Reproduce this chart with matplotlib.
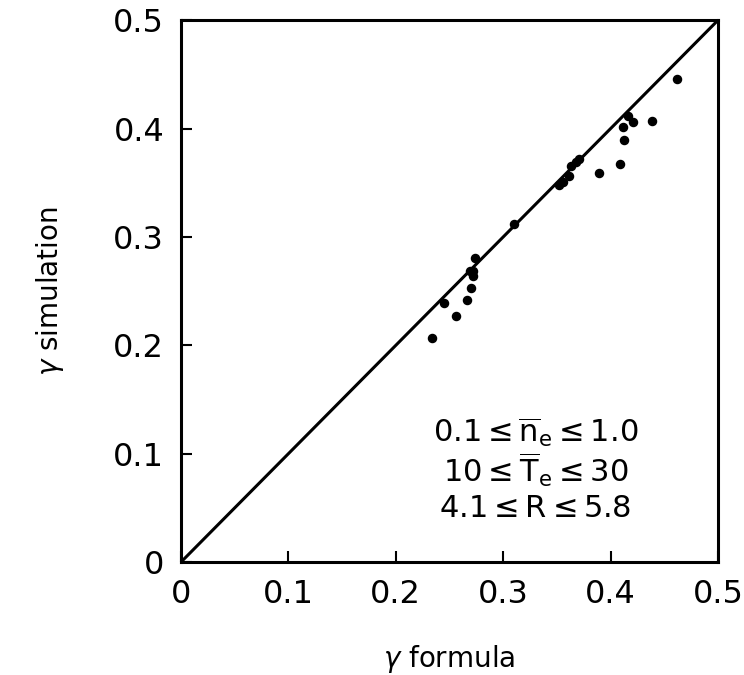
import matplotlib
matplotlib.use("Agg")
import matplotlib.pyplot as plt

# gamma formula vs gamma simulation
gamma_formula = [0.4615, 0.4159, 0.4211, 0.4388, 0.4115, 0.4128, 0.4088, 0.3892,
                 0.3709, 0.3675, 0.3631, 0.3610, 0.3560, 0.3520, 0.3103, 0.2735,
                 0.2688, 0.2722, 0.2716, 0.2700, 0.2660, 0.2449, 0.2561, 0.2337]
gamma_sim = [0.4462, 0.4114, 0.4059, 0.4075, 0.4019, 0.3899, 0.3674, 0.3595,
             0.3724, 0.3693, 0.3653, 0.3567, 0.3506, 0.3478, 0.3125, 0.2807,
             0.2687, 0.2687, 0.2641, 0.2534, 0.2417, 0.2392, 0.2272, 0.2073]

ticks = [0, 0.1, 0.2, 0.3, 0.4, 0.5]
tick_labels = ["0", "0.1", "0.2", "0.3", "0.4", "0.5"]
ranges = [r"$\mathrm{0.1 \leq \overline{n}_e \leq 1.0}$",
          r"$\mathrm{10 \leq \overline{T}_e \leq 30}$",
          r"$\mathrm{4.1 \leq R \leq 5.8}$"]

plt.rcParams["font.family"] = "DejaVu Sans"
plt.rcParams["mathtext.fontset"] = "dejavusans"

fig = plt.figure(figsize=(7.44, 6.75), dpi=100)
ax = fig.add_axes([0.243, 0.167, 0.722, 0.803])

# y = x reference line
ax.plot([0, 0.5], [0, 0.5], color="black", lw=2.2, solid_capstyle="butt")
ax.scatter(gamma_formula, gamma_sim, s=34, color="black", zorder=3)

ax.set_xlim(0, 0.5)
ax.set_ylim(0, 0.5)
ax.set_xticks(ticks)
ax.set_xticklabels(tick_labels)
ax.set_yticks(ticks)
ax.set_yticklabels(tick_labels)
ax.tick_params(direction="in", length=8, width=1.5, labelsize=23, pad=12)
for s in ax.spines.values():
    s.set_linewidth(2.2)

ax.set_xlabel(r"$\gamma$ formula", fontsize=20, labelpad=24)
ax.set_ylabel(r"$\gamma$ simulation", fontsize=20, labelpad=34)

for i, t in enumerate(ranges):
    ax.text(0.33, 0.120 - i * 0.035, t, fontsize=22, ha="center", va="center")

fig.savefig("out.png", dpi=100)
